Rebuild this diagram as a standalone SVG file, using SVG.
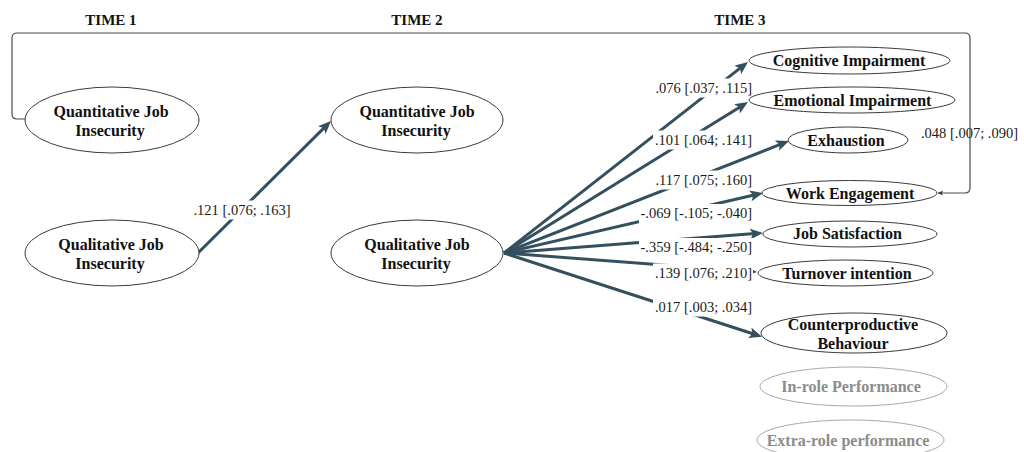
<svg xmlns="http://www.w3.org/2000/svg" width="1024" height="452" viewBox="0 0 1024 452">
<style>
  .hdr { font-family: "Liberation Serif", "Times New Roman", serif; font-weight: bold; font-size: 15px; fill: #111; text-anchor: middle; }
  .nt { font-family: "Liberation Serif", "Times New Roman", serif; font-weight: bold; font-size: 16px; fill: #111; text-anchor: middle; }
  .nt.g { fill: #8c8c8c; }
  .el { fill: #fff; stroke: #3a3a3a; stroke-width: 1; }
  .el.g { stroke: #a8a8a8; }
  .lbl { font-family: "Liberation Serif", "Times New Roman", serif; font-size: 14.5px; fill: #1a1a1a; }
  .bg { fill: #fff; }
  .ar { stroke: #34505f; stroke-width: 3; fill: none; }
  .fb { stroke: #4a4a4a; stroke-width: 1.2; fill: none; }
</style>
<defs>
  <marker id="ah" markerUnits="userSpaceOnUse" markerWidth="14" markerHeight="12" refX="5" refY="5.5" orient="auto">
    <path d="M0,0 L13,5.5 L0,11 L3,5.5 Z" fill="#34505f"/>
  </marker>
  <marker id="ahs" markerUnits="userSpaceOnUse" markerWidth="8" markerHeight="8" refX="5" refY="2.5" orient="auto">
    <path d="M0,0 L5,2.5 L0,5 L1.2,2.5 Z" fill="#333"/>
  </marker>
</defs>

<text class="hdr" x="111" y="25">TIME 1</text>
<text class="hdr" x="417" y="25">TIME 2</text>
<text class="hdr" x="740" y="25">TIME 3</text>

<g id="connectors">
  <path class="fb" d="M25,119 H17 Q12,119 12,114 V38 Q12,33 17,33 H965 Q970,33 970,38 V188 Q970,193 965,193 H938" marker-end="url(#ahs)"/>
  <line class="ar" x1="198" y1="253" x2="325.3" y2="126.6" marker-end="url(#ah)"/>
  <line class="ar" x1="504" y1="253" x2="741.7" y2="66.9" marker-end="url(#ah)"/>
  <line class="ar" x1="504" y1="253" x2="741.2" y2="106.2" marker-end="url(#ah)"/>
  <line class="ar" x1="504" y1="253" x2="781.6" y2="143.9" marker-end="url(#ah)"/>
  <line class="ar" x1="504" y1="253" x2="755.2" y2="194.8" marker-end="url(#ah)"/>
  <line class="ar" x1="504" y1="253" x2="755.0" y2="233.6" marker-end="url(#ah)"/>
  <line class="ar" x1="504" y1="253" x2="749.0" y2="271.4" marker-end="url(#ah)"/>
  <line class="ar" x1="504" y1="253" x2="754.4" y2="334.3" marker-end="url(#ah)"/>

  <g id="labels">
    <rect class="bg" x="191" y="200.5" width="102" height="19"/>
    <text class="lbl" x="242" y="215" text-anchor="middle">.121 [.076; .163]</text>
    <rect class="bg" x="653" y="78.5" width="100" height="19"/>
    <text class="lbl" x="752" y="93" text-anchor="end">.076 [.037; .115]</text>
    <rect class="bg" x="653" y="130.5" width="100" height="19"/>
    <text class="lbl" x="752" y="145" text-anchor="end">.101 [.064; .141]</text>
    <rect class="bg" x="653" y="170.5" width="100" height="19"/>
    <text class="lbl" x="752" y="185" text-anchor="end">.117 [.075; .160]</text>
    <rect class="bg" x="639" y="204" width="114" height="19"/>
    <text class="lbl" x="752" y="218" text-anchor="end">-.069 [-.105; -.040]</text>
    <rect class="bg" x="639" y="238" width="114" height="19"/>
    <text class="lbl" x="752" y="252" text-anchor="end">-.359 [-.484; -.250]</text>
    <rect class="bg" x="653" y="263.5" width="100" height="19"/>
    <text class="lbl" x="752" y="278" text-anchor="end">.139 [.076; .210]</text>
    <rect class="bg" x="653" y="297.5" width="100" height="19"/>
    <text class="lbl" x="752" y="312" text-anchor="end">.017 [.003; .034]</text>
    <text class="lbl" x="969.5" y="138" text-anchor="middle">.048 [.007; .090]</text>
  </g>
</g>

<g id="t1-quant">
  <ellipse class="el" cx="112" cy="120" rx="87" ry="33"/>
  <text class="nt" x="111" y="116.5">Quantitative Job</text>
  <text class="nt" x="110" y="135.5">Insecurity</text>
</g>
<g id="t1-qual">
  <ellipse class="el" cx="112" cy="253" rx="87" ry="33"/>
  <text class="nt" x="111" y="249.5">Qualitative Job</text>
  <text class="nt" x="110" y="268.5">Insecurity</text>
</g>
<g id="t2-quant">
  <ellipse class="el" cx="417" cy="120" rx="86" ry="33"/>
  <text class="nt" x="417" y="116.5">Quantitative Job</text>
  <text class="nt" x="416" y="135.5">Insecurity</text>
</g>
<g id="t2-qual">
  <ellipse class="el" cx="417" cy="253" rx="86" ry="33"/>
  <text class="nt" x="417" y="249.5">Qualitative Job</text>
  <text class="nt" x="416" y="268.5">Insecurity</text>
</g>

<g id="cognitive">
  <ellipse class="el" cx="849.5" cy="60.5" rx="100.5" ry="13.5"/>
  <text class="nt" x="849" y="66">Cognitive Impairment</text>
</g>
<g id="emotional">
  <ellipse class="el" cx="852" cy="100" rx="103" ry="13"/>
  <text class="nt" x="852.5" y="105.5">Emotional Impairment</text>
</g>
<g id="exhaustion">
  <ellipse class="el" cx="848" cy="140" rx="60" ry="13"/>
  <text class="nt" x="846" y="145.5">Exhaustion</text>
</g>
<g id="work-engagement">
  <ellipse class="el" cx="849.5" cy="193" rx="87.5" ry="12.5"/>
  <text class="nt" x="850" y="198.5">Work Engagement</text>
</g>
<g id="job-satisfaction">
  <ellipse class="el" cx="850" cy="234" rx="87" ry="13"/>
  <text class="nt" x="847.5" y="239">Job Satisfaction</text>
</g>
<g id="turnover">
  <ellipse class="el" cx="845.5" cy="273" rx="87.5" ry="13"/>
  <text class="nt" x="847" y="278.5">Turnover intention</text>
</g>
<g id="counterproductive">
  <ellipse class="el" cx="854" cy="333" rx="93" ry="20"/>
  <text class="nt" x="853" y="329.5">Counterproductive</text>
  <text class="nt" x="853" y="348.5">Behaviour</text>
</g>
<g id="in-role">
  <ellipse class="el g" cx="853.5" cy="386.5" rx="93.5" ry="19.5"/>
  <text class="nt g" x="851" y="392">In-role Performance</text>
</g>
<g id="extra-role">
  <ellipse class="el g" cx="850.5" cy="440" rx="93.5" ry="20"/>
  <text class="nt g" x="848" y="445.5">Extra-role performance</text>
</g>
</svg>
